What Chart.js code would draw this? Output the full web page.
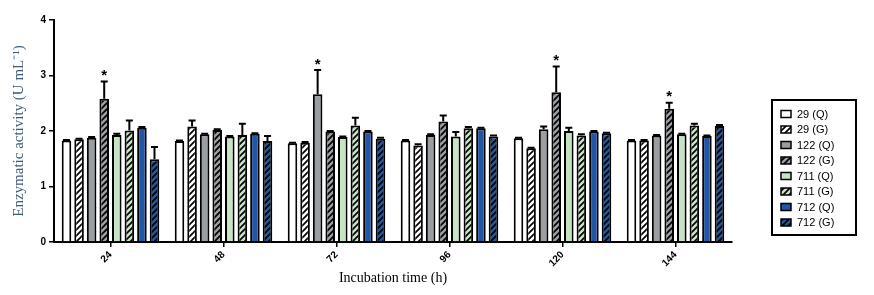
<!doctype html>
<html>
<head>
    <title>Enzymatic activity</title>
    <script src="https://cdn.jsdelivr.net/npm/chart.js@4.4.0/dist/chart.umd.min.js"></script>
    <style>
    body { margin: 0; background: #fff; }
    canvas { display: block; }
    </style>
</head>
<body>
    <canvas id="canvas" width="874" height="295"></canvas>
    <script>
        var HOURS = ['24', '48', '72', '96', '120', '144'];
        var SERIES = ['29 (Q)', '29 (G)', '122 (Q)', '122 (G)', '711 (Q)', '711 (G)', '712 (Q)', '712 (G)'];

        var s29Q  = [1.83, 1.82, 1.78, 1.83, 1.87, 1.83];
        var s29G  = [1.85, 2.08, 1.79, 1.74, 1.69, 1.83];
        var s122Q = [1.88, 1.94, 2.66, 1.93, 2.03, 1.92];
        var s122G = [2.58, 2.02, 1.99, 2.17, 2.70, 2.40];
        var s711Q = [1.93, 1.90, 1.89, 1.90, 2.00, 1.94];
        var s711G = [2.01, 1.93, 2.10, 2.05, 1.92, 2.10];
        var s712Q = [2.06, 1.95, 1.99, 2.05, 1.99, 1.91];
        var s712G = [1.49, 1.82, 1.86, 1.90, 1.96, 2.09];

        // error bar heights (upper only)
        var e29Q  = [0.01, 0.01, 0.01, 0.01, 0.01, 0.01];
        var e29G  = [0.01, 0.11, 0.01, 0.02, 0.01, 0.01];
        var e122Q = [0.01, 0.01, 0.44, 0.01, 0.05, 0.01];
        var e122G = [0.31, 0.01, 0.01, 0.11, 0.46, 0.11];
        var e711Q = [0.02, 0.01, 0.01, 0.08, 0.06, 0.01];
        var e711G = [0.18, 0.20, 0.14, 0.02, 0.02, 0.03];
        var e712Q = [0.01, 0.01, 0.01, 0.01, 0.01, 0.01];
        var e712G = [0.22, 0.09, 0.02, 0.02, 0.01, 0.02];

        // [series index, hour index] marked with *
        var STARS = [[3, 0], [2, 2], [3, 4], [3, 5]];

        var WHITE = '#ffffff', GREY = '#9a9ea3', GREEN = '#c6e4c4', BLUE = '#2156a5';

        function hatch(fill) {
            var c = document.createElement('canvas');
            c.width = 6; c.height = 6;
            var g = c.getContext('2d');
            g.fillStyle = fill;
            g.fillRect(0, 0, 6, 6);
            g.strokeStyle = '#000';
            g.lineWidth = 1.7;
            g.beginPath();
            g.moveTo(-1, 7); g.lineTo(7, -1);
            g.moveTo(-4, 4); g.lineTo(4, -4);
            g.moveTo(2, 10); g.lineTo(10, 2);
            g.stroke();
            return g.createPattern(c, 'repeat');
        }

        var values = [s29Q, s29G, s122Q, s122G, s711Q, s711G, s712Q, s712G];
        var errors = [e29Q, e29G, e122Q, e122G, e711Q, e711G, e712Q, e712G];
        var fills = [WHITE, hatch(WHITE), GREY, hatch(GREY), GREEN, hatch(GREEN), BLUE, hatch(BLUE)];

        var datasets = SERIES.map(function(name, i) {
            return {
                label: name,
                data: values[i],
                err: errors[i],
                backgroundColor: fills[i],
                borderColor: '#000',
                borderWidth: 2,
                borderSkipped: 'bottom',
                barPercentage: 0.76,
                categoryPercentage: 0.89
            };
        });

        var errorBars = {
            id: 'errorBars',
            afterDatasetsDraw: function(chart) {
                var ctx = chart.ctx, y = chart.scales.y;
                ctx.save();
                ctx.strokeStyle = '#000';
                ctx.lineWidth = 2;
                chart.data.datasets.forEach(function(ds, i) {
                    chart.getDatasetMeta(i).data.forEach(function(bar, j) {
                        var top = y.getPixelForValue(ds.data[j] + ds.err[j]);
                        ctx.beginPath();
                        ctx.moveTo(bar.x, bar.y);
                        ctx.lineTo(bar.x, top);
                        ctx.moveTo(bar.x - 3.5, top);
                        ctx.lineTo(bar.x + 3.5, top);
                        ctx.stroke();
                    });
                });
                ctx.fillStyle = '#000';
                ctx.font = 'bold 15px "Liberation Sans", Arial';
                ctx.textAlign = 'center';
                ctx.textBaseline = 'bottom';
                STARS.forEach(function(s) {
                    var ds = chart.data.datasets[s[0]];
                    var bar = chart.getDatasetMeta(s[0]).data[s[1]];
                    var top = y.getPixelForValue(ds.data[s[1]] + ds.err[s[1]]);
                    ctx.fillText('*', bar.x, top + 2);
                });
                ctx.restore();
            }
        };

        var boxLegend = {
            id: 'boxLegend',
            afterDraw: function(chart) {
                var ctx = chart.ctx;
                ctx.save();
                ctx.strokeStyle = '#000';
                ctx.lineWidth = 2;
                ctx.strokeRect(772, 100, 84, 135);
                ctx.font = '11px "Liberation Sans", Arial';
                ctx.textBaseline = 'middle';
                chart.data.datasets.forEach(function(ds, i) {
                    var yy = 114 + i * 15.5;
                    ctx.fillStyle = ds.backgroundColor;
                    ctx.fillRect(781, yy - 3.5, 10, 7);
                    ctx.lineWidth = 1.5;
                    ctx.strokeRect(781, yy - 3.5, 10, 7);
                    ctx.fillStyle = '#000';
                    ctx.fillText(ds.label, 797, yy + 0.5);
                });
                ctx.restore();
            }
        };

        window.onload = function() {
            var ctx = document.getElementById('canvas').getContext('2d');
            window.myBar = new Chart(ctx, {
                type: 'bar',
                data: { labels: HOURS, datasets: datasets },
                plugins: [errorBars, boxLegend],
                options: {
                    responsive: false,
                    animation: false,
                    layout: { padding: { left: 0, top: 20, right: 142, bottom: 0 } },
                    plugins: { legend: { display: false }, tooltip: { enabled: false } },
                    scales: {
                        x: {
                            afterFit: function(s) { s.height = 53; },
                            grid: { display: true, offset: false, drawOnChartArea: false, tickLength: 5, color: '#000', lineWidth: 1.5 },
                            border: { color: '#000', width: 2 },
                            ticks: {
                                color: '#000', minRotation: 45, maxRotation: 45, padding: 2,
                                font: { family: '"Liberation Sans", Arial', weight: 'bold', size: 10 }
                            },
                            title: {
                                display: true, text: 'Incubation time (h)', color: '#000',
                                font: { family: '"Liberation Serif", "Times New Roman", serif', size: 14 },
                                padding: { top: 0, bottom: 8 }
                            }
                        },
                        y: {
                            min: 0, max: 4,
                            afterFit: function(s) { s.width = 54; },
                            grid: { display: true, drawOnChartArea: false, tickLength: 5, color: '#000', lineWidth: 1.5 },
                            border: { color: '#000', width: 2 },
                            ticks: {
                                stepSize: 1, color: '#000', padding: 3,
                                font: { family: '"Liberation Sans", Arial', weight: 'bold', size: 10 }
                            },
                            title: {
                                display: true, text: 'Enzymatic activity (U mL\u207B\u00B9)', color: '#3d5a78',
                                font: { family: '"Liberation Serif", "Times New Roman", serif', size: 15 },
                                padding: { top: 10, bottom: 0 }
                            }
                        }
                    }
                }
            });
        };
    </script>
</body>
</html>
